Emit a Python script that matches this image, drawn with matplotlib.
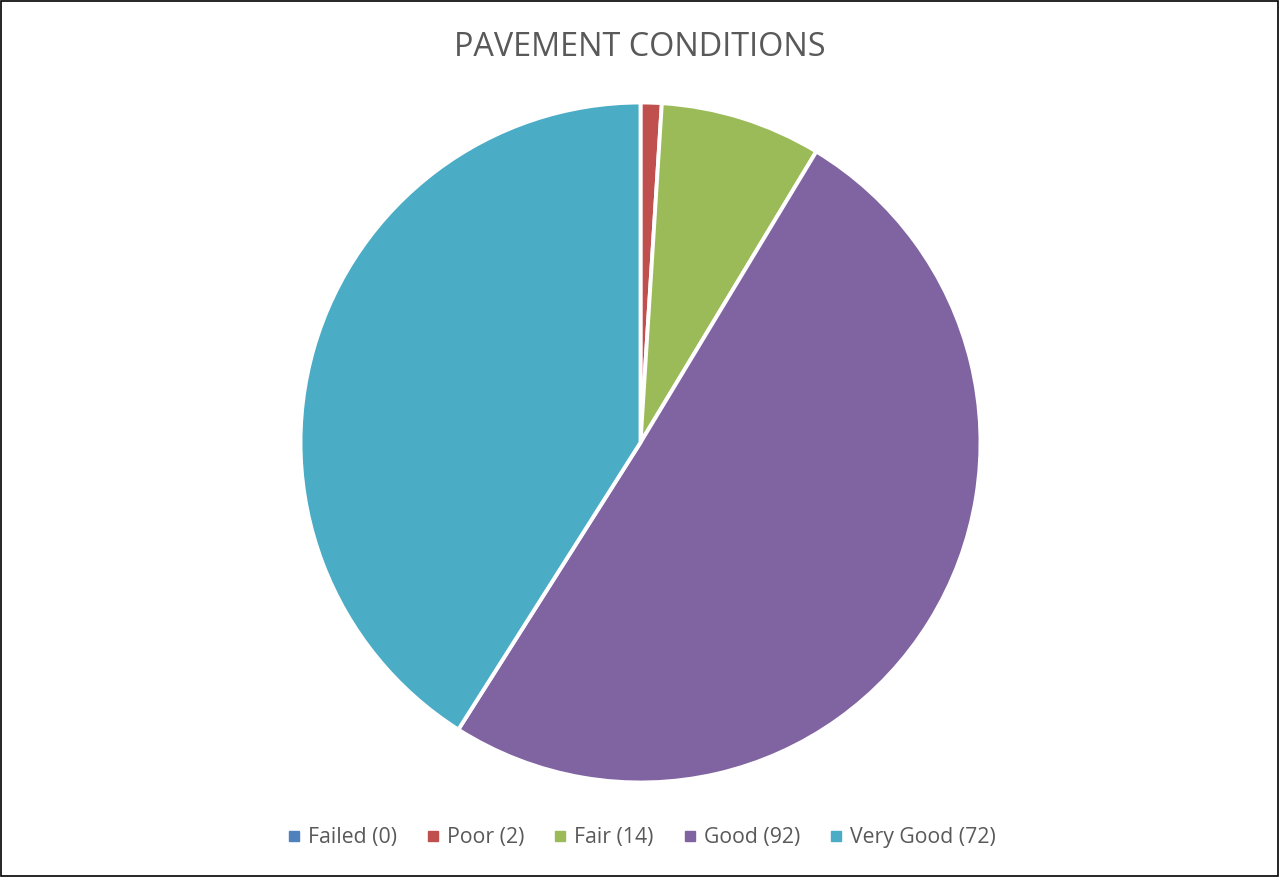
import matplotlib.pyplot as plt
from matplotlib.patches import Rectangle
from matplotlib.lines import Line2D

categories = ['Failed', 'Poor', 'Fair', 'Good', 'Very Good']
counts = [0, 2, 14, 92, 72]
# slice sizes as drawn in the picture (percent of the pie)
shares = [0.0, 1.0, 7.65, 50.35, 41.0]
colors = ['#4F81BD', '#C0504D', '#9BBB59', '#8064A2', '#4BACC6']

plt.rcParams['font.family'] = ['Open Sans', 'DejaVu Sans']

fig = plt.figure(figsize=(12.79, 8.77), dpi=100)

# pie centred at roughly (640, 442) px, radius about 340 px
cx, cy, r = 640.5 / 1279, 1 - 442.5 / 877, 340
ax = fig.add_axes([cx - r / 1279, cy - r / 877, 2 * r / 1279, 2 * r / 877])
ax.pie(shares, colors=colors, startangle=90, counterclock=False,
       wedgeprops=dict(edgecolor='white', linewidth=2.8))
ax.set_aspect('equal')
ax.set_xlim(-1, 1)
ax.set_ylim(-1, 1)
ax.axis('off')

fig.text(0.5, 1 - 48 / 877, 'PAVEMENT CONDITIONS', ha='center', va='center',
         fontsize=23.3, color='#595959')

handles = [Line2D([0], [0], marker='s', linestyle='', markersize=7.5,
                  markerfacecolor=c, markeredgecolor=c) for c in colors]
labels = [f'{n} ({v})' for n, v in zip(categories, counts)]
fig.legend(handles, labels, loc='center', bbox_to_anchor=(0.5, 1 - 838 / 877),
           ncol=5, frameon=False, fontsize=15.3, labelcolor='#595959',
           handletextpad=0.15, columnspacing=1.2, handlelength=1.0)

fig.patches.append(Rectangle((0.001, 0.001), 0.998, 0.998, transform=fig.transFigure,
                             fill=False, edgecolor='black', linewidth=1.2))

fig.savefig('out.png', dpi=100)
